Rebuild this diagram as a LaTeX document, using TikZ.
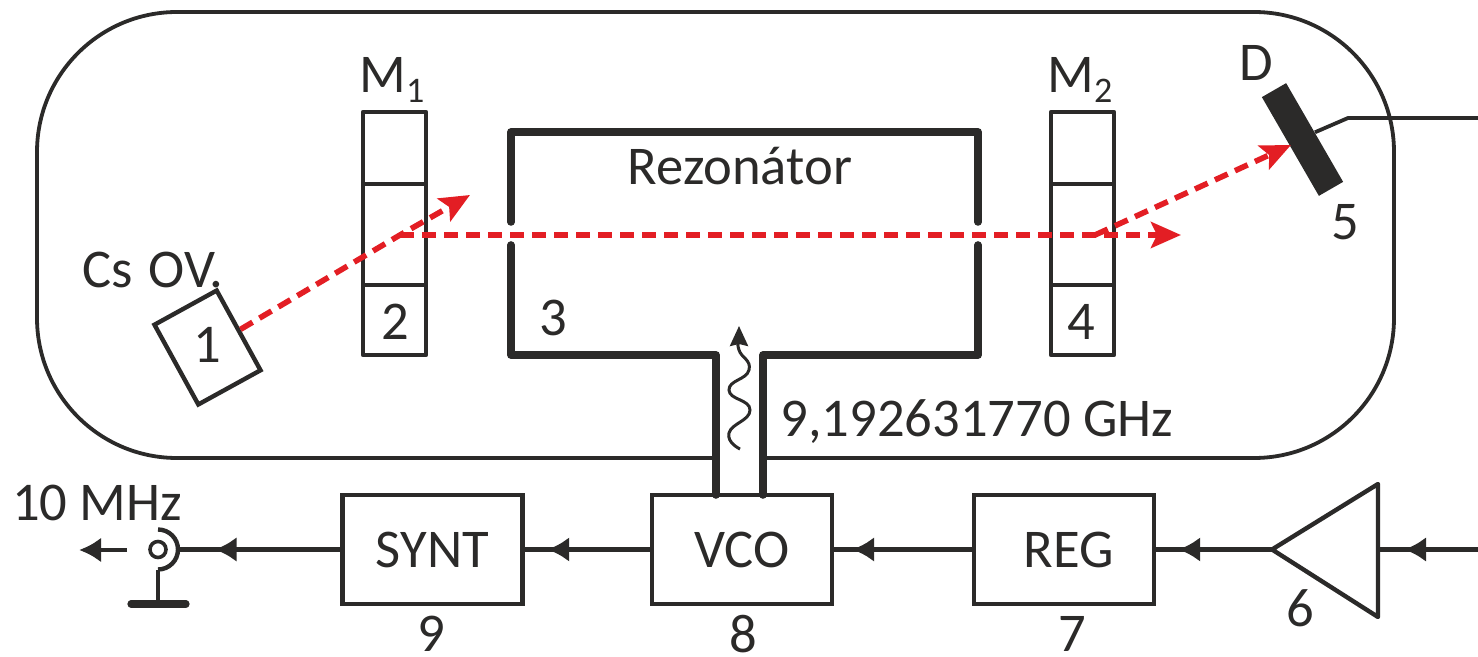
\documentclass[tikz,border=0pt]{standalone}
\usepackage{fontspec}
\setmainfont{Carlito}
\usetikzlibrary{arrows.meta,decorations.markings}

\definecolor{ink}{HTML}{2B2A29}
\definecolor{beamred}{HTML}{E31E24}

\newcommand{\magsub}[1]{\raisebox{-5pt}{\fontsize{18}{20}\selectfont #1}}

\tikzset{
  wire/.style={ink, line width=2.2pt, line join=round},
  thinwire/.style={ink, line width=1.9pt, line join=round},
  wall/.style={ink, line width=3.8pt, line join=round, line cap=round},
  block/.style={draw=ink, line width=2.2pt, minimum width=90pt, minimum height=54.5pt, inner sep=0pt, text=ink},
  lbl/.style={text=ink, inner sep=0pt},
  beam/.style={beamred, line width=2.8pt, dash pattern=on 7pt off 4pt, -{Stealth[length=15pt, width=13pt, inset=3pt, fill=beamred]}},
  midtip/.style={postaction={decorate}, decoration={markings, mark=at position #1 with {\arrow{Latex[length=11pt, width=12.5pt]}}}}
}

\begin{document}
\begin{tikzpicture}[x=0.5pt, y=-0.5pt, font=\fontsize{27.3}{30}\selectfont]

\useasboundingbox (0,0) rectangle (1478,657);

% vacuum tube
\draw[thinwire, rounded corners=70pt] (716,458) -- (37,458) -- (37,12) -- (1394,12) -- (1394,458) -- (763,458);

% magnets
\def\x{363}
\draw[wire] (\x + 0,112) rectangle (\x + 63,355);
\draw[wire] (\x + 0,184) -- (\x + 63,184);
\draw[wire] (\x + 0,285) -- (\x + 63,285);
\node[lbl, anchor=base west] (mone) at (\x + -4,93) {M\magsub{1}};
\node[lbl] (two) at (\x + 32,322) {2};

\def\x{1051}
\draw[wire] (\x + 0,112) rectangle (\x + 63,355);
\draw[wire] (\x + 0,184) -- (\x + 63,184);
\draw[wire] (\x + 0,285) -- (\x + 63,285);
\node[lbl, anchor=base west] (mtwo) at (\x + -4,93) {M\magsub{2}};
\node[lbl] (four) at (\x + 30,322) {4};

% resonator
\draw[wall] (511,222) -- (511,132) -- (978,132) -- (978,222);
\draw[wall] (511,245) -- (511,355) -- (716,355) -- (716,495);
\draw[wall] (978,245) -- (978,355) -- (763,355) -- (763,495);
\node[lbl] (rez) at (740,166) {Rezonátor};
\node[lbl] (three) at (553,318) {3};

% oven and detector
\node[draw=ink, line width=2.2pt, rotate=28.8, minimum width=35.5pt, minimum height=45.5pt, inner sep=0pt] (oven) at (207.5,347.5) {};
\node[lbl] (one) at (207,345) {1};
\node[lbl] (cs) at (108,270) {Cs};
\node[lbl] (ov) at (186,270) {OV.};

\node[fill=ink, rotate=30, minimum width=14pt, minimum height=57pt, inner sep=0pt] (det) at (1302.5,139.5) {};
\node[lbl] (d) at (1256,63) {D};
\node[lbl] (five) at (1345,222) {5};
\coordinate (detbend) at (1348,118);
\coordinate (detout) at (1478,118);
\draw[thinwire] (det.east) -- (detbend) -- (detout);

% beams
\coordinate (splita) at (400,235);
\coordinate (splitb) at (1095,235);
\coordinate (enda) at (470,195);
\coordinate (endb) at (1181,235);
\coordinate (endc) at (1291,145);
\draw[beam] (oven.east) -- (splita) -- (enda);
\draw[beam] (splita) -- (endb);
\draw[beam] (splitb) -- (endc);

% microwave feed
\draw[ink, line width=1.5pt, -{Stealth[length=10pt, width=9pt, inset=1pt]}] plot[smooth, tension=0.9] coordinates {(740,449) (729,433) (750,410) (729,390) (749,370) (739,350) (739,338) (739,326)};
\node[lbl, anchor=west] (freq) at (780,422) {9,192631770 GHz};

% signal chain
\node[block] (synt) at (432.5,549.5) {SYNT};
\node[block] (vco) at (742,549.5) {VCO};
\node[block] (reg) at (1064,549.5) {\hspace*{5pt}REG};
\node[lbl] (nine) at (431,634) {9};
\node[lbl] (eight) at (743,634) {8};
\node[lbl] (seven) at (1072,634) {7};

\coordinate (amptip) at (1272,549.5);
\coordinate (ampup) at (1378,484);
\coordinate (ampdown) at (1378,617);
\coordinate (ampin) at (1378,549.5);
\coordinate (sigin) at (1478,549.5);
\draw[wire] (amptip) -- (ampup) -- (ampdown) -- cycle;
\node[lbl] (six) at (1300,608) {6};

\draw[wire, midtip=0.74] (sigin) -- (ampin);
\draw[wire, midtip=0.81] (amptip) -- (reg.east);
\draw[wire, midtip=0.87] (reg.west) -- (vco.east);
\draw[wire, midtip=0.82] (vco.west) -- (synt.east);

% output connector
\coordinate (coax) at (158,549.5);
\coordinate (coaxrim) at (178,549.5);
\coordinate (coaxtop) at (158,529.5);
\coordinate (coaxfoot) at (158,604);
\coordinate (footl) at (131,604);
\coordinate (footr) at (186,604);
\coordinate (outa) at (127,550);
\coordinate (outb) at (79,550);
\node[draw=ink, line width=1.8pt, circle, minimum size=8pt, inner sep=0pt] (coaxpin) at (coax) {};
\draw[wire] (coaxtop) arc[start angle=-90, end angle=90, radius=20];
\draw[wire] (158,570) -- (coaxfoot);
\draw[ink, line width=3.6pt, line cap=round] (footl) -- (footr);
\draw[wire, midtip=0.775] (synt.west) -- (coaxrim);
\draw[wire, -{Latex[length=11pt, width=12.5pt]}] (outa) -- (outb);
\node[lbl] (mhz) at (97,503) {10 MHz};

\end{tikzpicture}
\end{document}
